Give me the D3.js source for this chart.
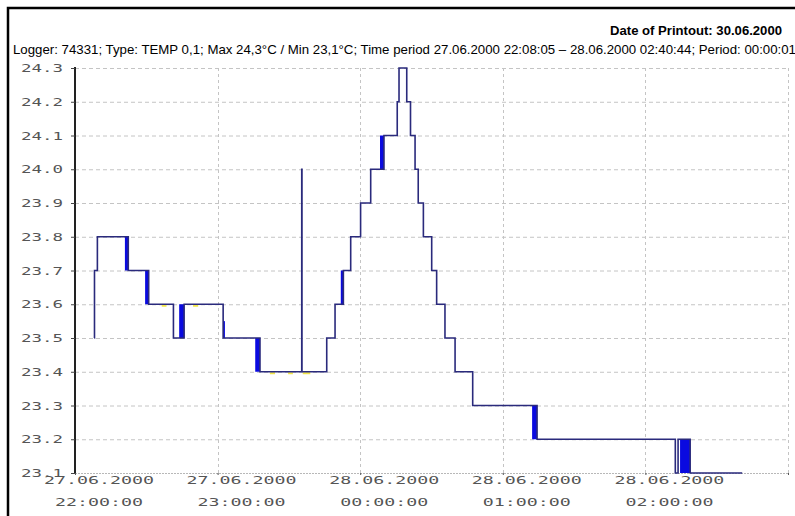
<!DOCTYPE html>
<html>
<head>
<meta charset="utf-8">
<script src="https://cdn.jsdelivr.net/npm/d3@7"></script>
<style>
  html, body { margin: 0; padding: 0; background: #fff; }
  svg { display: block; }
</style>
</head>
<body>
<svg id="chart" width="795" height="516"></svg>
<script>
// ---------------- DATA ----------------
const headerRight = "Date of Printout: 30.06.2000";
const headerInfo = "Logger: 74331; Type: TEMP 0,1; Max 24,3°C / Min 23,1°C; Time period 27.06.2000 22:08:05 – 28.06.2000 02:40:44; Period: 00:00:01";

const yTicks = [23.1, 23.2, 23.3, 23.4, 23.5, 23.6, 23.7, 23.8, 23.9, 24.0, 24.1, 24.2, 24.3];
const xTickTimes = ["27.06.2000 22:00:00", "27.06.2000 23:00:00", "28.06.2000 00:00:00",
                    "28.06.2000 01:00:00", "28.06.2000 02:00:00", "28.06.2000 03:00:00"];
const xLabelDates = ["27.06.2000", "27.06.2000", "28.06.2000", "28.06.2000", "28.06.2000"];
const xLabelTimes = ["22:00:00", "23:00:00", "00:00:00", "01:00:00", "02:00:00"];

// step readings: [timestamp, temperature]
const stepTimes = [
  "27.06.2000 22:08:05", "27.06.2000 22:08:12", "27.06.2000 22:09:25", "27.06.2000 22:22:25",
  "27.06.2000 22:31:00", "27.06.2000 22:41:25", "27.06.2000 22:45:55", "27.06.2000 23:02:20",
  "27.06.2000 23:17:50", "27.06.2000 23:35:24", "27.06.2000 23:35:30", "27.06.2000 23:45:55",
  "27.06.2000 23:49:25", "27.06.2000 23:52:55", "27.06.2000 23:56:00", "28.06.2000 00:00:10",
  "28.06.2000 00:04:25", "28.06.2000 00:10:00", "28.06.2000 00:15:35", "28.06.2000 00:16:20",
  "28.06.2000 00:19:35", "28.06.2000 00:21:10", "28.06.2000 00:23:05", "28.06.2000 00:24:25",
  "28.06.2000 00:26:35", "28.06.2000 00:30:05", "28.06.2000 00:32:10", "28.06.2000 00:35:40",
  "28.06.2000 00:39:55", "28.06.2000 00:47:20", "28.06.2000 01:14:25", "28.06.2000 02:12:35",
  "28.06.2000 02:13:45", "28.06.2000 02:18:50", "28.06.2000 02:40:44"
];
const stepValues = [
  23.5, 23.7, 23.8, 23.7,
  23.6, 23.5, 23.6, 23.5,
  23.4, 24.0, 23.4, 23.5,
  23.6, 23.7, 23.8, 23.9,
  24.0, 24.1, 24.2, 24.3,
  24.2, 24.1, 24.0, 23.9,
  23.8, 23.7, 23.6, 23.5,
  23.4, 23.3, 23.2, 23.1,
  23.2, 23.1, 23.1
];

// rapid flicker between two values: [start, end, low, high]
const flickerStart = ["27.06.2000 22:21:00", "27.06.2000 22:29:30", "27.06.2000 22:43:50",
                      "27.06.2000 23:02:20", "27.06.2000 23:15:50", "27.06.2000 23:51:50",
                      "28.06.2000 00:08:20", "28.06.2000 01:12:20", "28.06.2000 02:14:35"];
const flickerEnd   = ["27.06.2000 22:22:25", "27.06.2000 22:31:00", "27.06.2000 22:45:55",
                      "27.06.2000 23:03:05", "27.06.2000 23:17:50", "27.06.2000 23:52:55",
                      "28.06.2000 00:10:00", "28.06.2000 01:14:25", "28.06.2000 02:18:50"];
const flickerLow   = [23.7, 23.6, 23.5, 23.5, 23.4, 23.6, 24.0, 23.2, 23.1];
const flickerHigh  = [23.8, 23.7, 23.6, 23.55, 23.5, 23.7, 24.1, 23.3, 23.2];

// small yellow marks on level lines: [start, end, value]
const markStart = ["27.06.2000 22:36:30", "27.06.2000 22:49:40", "27.06.2000 23:22:00",
                   "27.06.2000 23:29:40", "27.06.2000 23:35:50"];
const markEnd   = ["27.06.2000 22:38:30", "27.06.2000 22:51:50", "27.06.2000 23:24:10",
                   "27.06.2000 23:31:40", "27.06.2000 23:39:00"];
const markValue = [23.6, 23.6, 23.4, 23.4, 23.4];

// ---------------- CHART ----------------
const parse = d3.timeParse("%d.%m.%Y %H:%M:%S");
const svg = d3.select("#chart");

svg.append("rect").attr("width", 795).attr("height", 516).attr("fill", "#fff");
// outer frame (continues beyond the picture right/bottom)
svg.append("rect").attr("x", 8).attr("y", 8).attr("width", 820).attr("height", 540)
  .attr("fill", "none").attr("stroke", "#000").attr("stroke-width", 2.5);

svg.append("text").attr("x", 782).attr("y", 35).attr("text-anchor", "end")
  .attr("font-family", "Liberation Sans, Arial, sans-serif").attr("font-size", 13)
  .attr("font-weight", "bold").attr("fill", "#000")
  .attr("textLength", 172).attr("lengthAdjust", "spacingAndGlyphs").text(headerRight);
svg.append("text").attr("x", 13).attr("y", 53.5)
  .attr("font-family", "Liberation Sans, Arial, sans-serif").attr("font-size", 13)
  .attr("fill", "#000").attr("textLength", 783).attr("lengthAdjust", "spacingAndGlyphs")
  .text(headerInfo);

const x = d3.scaleTime().domain([parse(xTickTimes[0]), parse(xTickTimes[xTickTimes.length - 1])]).range([75, 788]);
const y = d3.scaleLinear().domain([23.1, 24.3]).range([473, 68]);

const grid = svg.append("g");
// horizontal grid
grid.selectAll("line.h").data(yTicks.slice(1)).join("line")
  .attr("x1", 75).attr("x2", 788).attr("y1", d => y(d) + 0.5).attr("y2", d => y(d) + 0.5)
  .attr("stroke", "#c4c4c4").attr("stroke-width", 1).attr("stroke-dasharray", "4,3");
// vertical grid
grid.selectAll("line.v").data(xTickTimes.slice(1)).join("line")
  .attr("x1", d => Math.round(x(parse(d))) + 0.5).attr("x2", d => Math.round(x(parse(d))) + 0.5)
  .attr("y1", 68).attr("y2", 473)
  .attr("stroke", "#c4c4c4").attr("stroke-width", 1).attr("stroke-dasharray", "3,3");
// bottom baseline
grid.append("line").attr("x1", 75).attr("x2", 788).attr("y1", 473.5).attr("y2", 473.5)
  .attr("stroke", "#b8b8b8").attr("stroke-width", 1.2).attr("stroke-dasharray", "2,1");

// y axis
const yAxis = d3.axisLeft(y).tickValues(yTicks).tickSize(4).tickPadding(8).tickFormat(d3.format(".1f"));
const gy = svg.append("g").attr("transform", "translate(75,0)").call(yAxis);
gy.select(".domain").attr("stroke", "#222").attr("stroke-width", 2).attr("d", "M0," + (y(24.3) - 1) + "V" + (y(23.1) + 1));
gy.selectAll(".tick line").attr("stroke", "#444");
gy.selectAll(".tick text")
  .attr("font-family", "DejaVu Sans Mono, monospace").attr("font-size", 10).attr("fill", "#555")
  .attr("textLength", 42).attr("lengthAdjust", "spacingAndGlyphs").attr("dy", "0.36em");

// x axis
const xAxis = d3.axisBottom(x).tickValues(xTickTimes.map(parse)).tickSize(2).tickFormat("");
const gx = svg.append("g").attr("transform", "translate(0,473)").call(xAxis);
gx.select(".domain").remove();
gx.selectAll(".tick line").attr("stroke", "#555");
const labelG = svg.append("g").attr("font-family", "DejaVu Sans Mono, monospace")
  .attr("font-size", 11).attr("fill", "#555").attr("text-anchor", "middle");
xLabelDates.forEach((d, i) => {
  const cx = x(parse(xTickTimes[i])) + 24;
  labelG.append("text").attr("x", cx).attr("y", 484)
    .attr("textLength", 110).attr("lengthAdjust", "spacingAndGlyphs").text(d);
  labelG.append("text").attr("x", cx).attr("y", 506)
    .attr("textLength", 88).attr("lengthAdjust", "spacingAndGlyphs").text(xLabelTimes[i]);
});

// yellow marks
svg.append("g").selectAll("line").data(markStart.map((s, i) => i)).join("line")
  .attr("x1", i => x(parse(markStart[i]))).attr("x2", i => x(parse(markEnd[i])))
  .attr("y1", i => y(markValue[i]) + 1.5).attr("y2", i => y(markValue[i]) + 1.5)
  .attr("stroke", "#f2e64a").attr("stroke-width", 2);

// flicker bands
svg.append("g").selectAll("rect").data(flickerStart.map((s, i) => i)).join("rect")
  .attr("x", i => x(parse(flickerStart[i])))
  .attr("width", i => Math.max(1.5, x(parse(flickerEnd[i])) - x(parse(flickerStart[i]))))
  .attr("y", i => y(flickerHigh[i]))
  .attr("height", i => y(flickerLow[i]) - y(flickerHigh[i]))
  .attr("fill", "#0a0ae0");

// step line
const pts = stepTimes.map((t, i) => [parse(t), stepValues[i]]);
const line = d3.line().x(d => x(d[0])).y(d => y(d[1])).curve(d3.curveStepAfter);
svg.append("path").datum(pts).attr("d", line)
  .attr("fill", "none").attr("stroke", "#2a2a7c").attr("stroke-width", 1.6);
</script>
</body>
</html>
